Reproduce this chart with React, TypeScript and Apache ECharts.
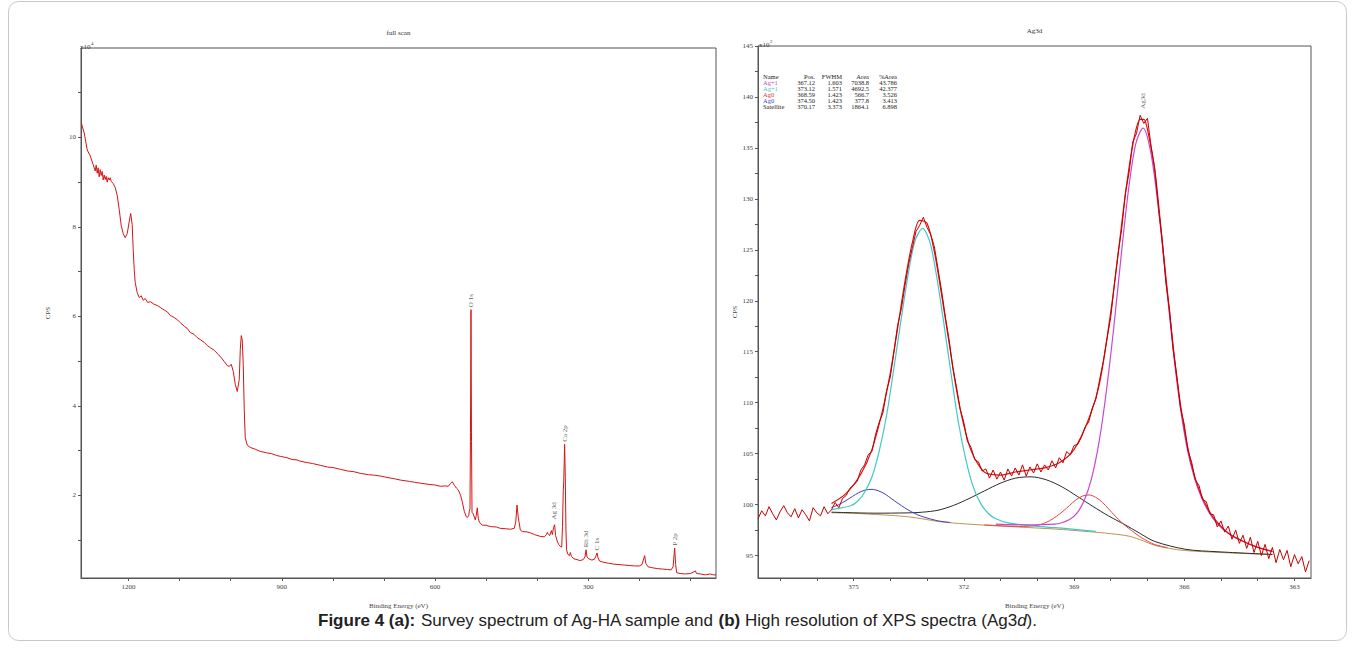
import React, { useEffect, useRef } from "react";
import * as echarts from "echarts";

const FONT = "Liberation Serif";

// ---------- Survey (full scan) : [binding energy eV, CPS x10^4] ----------
const surveyData: [number, number][] = [
  [1292.6, 10.33], [1286.7, 10.1], [1280.8, 9.72], [1275.0, 9.59], [1269.1, 9.39], [1265.2, 9.25],
  [1263.3, 9.38], [1261.3, 9.2], [1259.4, 9.32], [1257.4, 9.12], [1255.4, 9.28], [1253.5, 9.15],
  [1251.5, 9.24], [1249.6, 9.05], [1247.6, 9.16], [1245.6, 9.06], [1243.7, 9.13], [1241.7, 9.0],
  [1239.8, 9.1], [1237.8, 9.05], [1235.8, 9.1], [1233.9, 9.02], [1230.0, 8.97], [1226.0, 8.88],
  [1222.1, 8.7], [1218.2, 8.39], [1214.3, 8.03], [1210.4, 7.85], [1206.5, 7.76], [1202.5, 7.85],
  [1198.6, 8.12], [1195.7, 8.3], [1192.8, 8.05], [1190.8, 7.49], [1188.8, 7.05], [1186.9, 6.76],
  [1183.0, 6.53], [1179.0, 6.42], [1175.1, 6.46], [1171.2, 6.36], [1167.3, 6.4], [1162.4, 6.31],
  [1157.5, 6.33], [1150.0, 6.27], [1143.0, 6.24], [1137.9, 6.2], [1130.0, 6.14], [1124.0, 6.1],
  [1118.3, 6.02], [1110.0, 5.97], [1104.0, 5.92], [1098.8, 5.86], [1090.0, 5.77], [1085.0, 5.73],
  [1079.2, 5.64], [1072.0, 5.6], [1066.0, 5.53], [1059.6, 5.48], [1052.0, 5.42], [1046.0, 5.35],
  [1040.0, 5.3], [1032.0, 5.24], [1024.4, 5.15], [1018.0, 5.07], [1012.6, 4.99], [1006.7, 4.9],
  [1002.8, 4.88], [998.9, 4.93], [995.0, 4.77], [991.0, 4.48], [987.1, 4.32], [983.2, 4.59],
  [981.2, 5.26], [979.3, 5.57], [977.4, 5.48], [975.4, 4.92], [973.5, 3.92], [971.5, 3.29],
  [967.6, 3.12], [961.7, 3.07], [952.0, 3.03], [942.1, 2.98], [930.0, 2.95], [920.0, 2.93],
  [910.0, 2.89], [903.0, 2.87], [890.0, 2.84], [880.0, 2.8], [870.0, 2.79], [863.8, 2.76],
  [850.0, 2.73], [840.0, 2.71], [824.7, 2.67], [810.0, 2.63], [800.0, 2.62], [785.5, 2.58],
  [770.0, 2.54], [760.0, 2.53], [746.3, 2.49], [730.0, 2.46], [720.0, 2.45], [707.2, 2.43],
  [690.0, 2.39], [680.0, 2.37], [668.0, 2.34], [650.0, 2.31], [640.0, 2.29], [628.8, 2.27],
  [610.0, 2.24], [600.0, 2.23], [589.7, 2.2], [580.0, 2.21], [574.0, 2.2], [570.0, 2.26],
  [566.2, 2.3], [562.0, 2.22], [558.0, 2.16], [554.5, 2.12], [550.0, 2.0], [546.6, 1.85],
  [542.7, 1.64], [538.8, 1.52], [536.9, 1.5], [534.0, 1.55], [532.9, 1.64], [531.6, 1.7],
  [530.6, 3.4], [529.6, 6.15], [528.6, 3.2], [527.6, 1.62], [525.1, 1.58], [521.2, 1.45],
  [519.2, 1.55], [517.3, 1.72], [515.3, 1.48], [513.3, 1.4], [507.5, 1.33], [500.0, 1.33],
  [491.8, 1.3], [480.0, 1.29], [472.2, 1.26], [460.0, 1.25], [452.6, 1.24], [445.0, 1.26],
  [442.0, 1.4], [439.5, 1.78], [437.0, 1.5], [433.0, 1.22], [429.1, 1.19], [420.0, 1.18],
  [413.4, 1.16], [405.0, 1.12], [393.9, 1.08], [386.0, 1.07], [382.0, 1.12], [380.2, 1.17],
  [378.0, 1.12], [375.5, 1.1], [372.3, 1.21], [370.3, 1.12], [368.0, 1.28], [365.9, 1.34],
  [364.0, 1.1], [361.0, 0.98], [358.0, 0.9], [355.0, 0.86], [352.0, 0.84], [350.5, 1.3],
  [349.0, 2.1], [348.0, 2.3], [346.3, 3.14], [345.0, 2.4], [343.7, 1.2], [342.5, 0.78],
  [340.0, 0.68], [337.0, 0.65], [335.0, 0.72], [333.0, 0.63], [328.0, 0.58], [322.0, 0.56],
  [316.0, 0.54], [310.0, 0.56], [306.5, 0.62], [304.4, 0.78], [302.5, 0.62], [299.0, 0.58],
  [293.0, 0.55], [288.0, 0.57], [285.8, 0.62], [282.8, 0.71], [281.0, 0.6], [278.0, 0.53],
  [270.0, 0.5], [260.0, 0.48], [250.0, 0.46], [240.0, 0.45], [230.0, 0.44], [220.0, 0.43],
  [210.0, 0.42], [200.0, 0.42], [195.0, 0.45], [189.6, 0.65], [187.5, 0.48], [183.0, 0.4],
  [175.0, 0.38], [165.0, 0.36], [155.0, 0.35], [145.0, 0.34], [138.0, 0.33], [134.0, 0.4],
  [130.9, 0.82], [129.0, 0.45], [127.0, 0.27], [120.0, 0.25], [110.0, 0.24], [100.0, 0.25],
  [93.0, 0.29], [90.5, 0.31], [88.0, 0.25], [80.0, 0.24], [70.9, 0.22], [61.2, 0.24],
  [55.0, 0.22], [50.0, 0.22],
];
const surveyPeaks: [number, number, string][] = [
  [529.6, 6.15, "O 1s"], [368.0, 1.4, "Ag 3d"], [346.3, 3.14, "Ca 2p"],
  [304.4, 0.78, "Rh 3d"], [282.8, 0.71, "C 1s"], [130.9, 0.82, "P 2p"],
];
const surveyXTicks = [100, 200, 300, 400, 500, 600, 700, 800, 900, 1000, 1100, 1200];
const surveyXLabels = [300, 600, 900, 1200];
const surveyYTicks = [1, 2, 3, 4, 5, 6, 7, 8, 9, 10, 11];
const surveyYLabels = [2, 4, 6, 8, 10];

// ---------- Ag3d high resolution : [binding energy eV, CPS x10^2] ----------
const rawData: [number, number][] = [
  [377.6, 98.6], [377.5, 99.4], [377.4, 98.9], [377.3, 99.8], [377.2, 99.1], [377.1, 98.5], [377.0, 99.3],
  [376.9, 99.9], [376.8, 99.2], [376.7, 98.8], [376.6, 99.6], [376.5, 98.7], [376.4, 99.5], [376.3, 99.0],
  [376.2, 98.4], [376.1, 99.7], [376.0, 99.2], [375.9, 98.9], [375.8, 99.8], [375.7, 99.1], [375.6, 99.5],
  [375.5, 100.2], [375.4, 99.7], [375.3, 100.6], [375.2, 100.9], [375.1, 101.6], [375.0, 101.9], [374.9, 102.3],
  [374.8, 103.4], [374.7, 103.9], [374.6, 104.9], [374.5, 105.2], [374.4, 106.9], [374.3, 108.1], [374.2, 109.0],
  [374.1, 111.2], [374.0, 112.5], [373.9, 115.0], [373.8, 117.6], [373.7, 119.2], [373.6, 121.5], [373.5, 123.6],
  [373.4, 125.2], [373.3, 126.8], [373.2, 127.4], [373.1, 128.2], [373.0, 127.2], [372.9, 126.5], [372.8, 125.3],
  [372.7, 123.1], [372.6, 120.9], [372.5, 118.4], [372.4, 116.2], [372.3, 113.5], [372.2, 111.6], [372.1, 109.4],
  [372.0, 108.1], [371.9, 106.2], [371.8, 105.6], [371.7, 104.4], [371.6, 104.2], [371.5, 103.3], [371.4, 103.5],
  [371.3, 102.6], [371.2, 103.4], [371.1, 102.5], [371.0, 103.2], [370.9, 102.4], [370.8, 103.5], [370.7, 102.8],
  [370.6, 103.6], [370.5, 102.9], [370.4, 103.9], [370.3, 102.8], [370.2, 103.7], [370.1, 103.1], [370.0, 104.0],
  [369.9, 103.2], [369.8, 103.9], [369.7, 103.4], [369.6, 104.3], [369.5, 103.6], [369.4, 104.6], [369.3, 104.1],
  [369.2, 105.2], [369.1, 104.9], [369.0, 105.8], [368.9, 105.9], [368.8, 106.6], [368.7, 107.6], [368.6, 108.1],
  [368.5, 109.5], [368.4, 110.4], [368.3, 112.3], [368.2, 114.1], [368.1, 116.3], [368.0, 118.4], [367.9, 121.6],
  [367.8, 124.6], [367.7, 127.1], [367.6, 130.6], [367.5, 132.6], [367.4, 135.6], [367.3, 136.4], [367.2, 138.2],
  [367.1, 137.4], [367.0, 137.9], [366.9, 135.1], [366.8, 132.9], [366.7, 129.1], [366.6, 126.0], [366.5, 121.8],
  [366.4, 119.1], [366.3, 115.2], [366.2, 112.6], [366.1, 109.4], [366.0, 107.9], [365.9, 105.3], [365.8, 104.2],
  [365.7, 102.4], [365.6, 101.9], [365.5, 100.5], [365.4, 100.3], [365.3, 99.1], [365.2, 99.0], [365.1, 97.8],
  [365.0, 98.4], [364.9, 97.3], [364.8, 97.9], [364.7, 96.6], [364.6, 97.5], [364.5, 96.2], [364.4, 97.0],
  [364.3, 95.7], [364.2, 96.8], [364.1, 95.3], [364.0, 96.4], [363.9, 95.0], [363.8, 96.1], [363.7, 94.7],
  [363.6, 95.8], [363.5, 94.3], [363.4, 95.6], [363.3, 94.6], [363.2, 95.5], [363.1, 93.9], [363.0, 95.1],
  [362.9, 94.2], [362.8, 94.9], [362.7, 93.4], [362.6, 94.5],
];
const envelopeData: [number, number][] = [
  [375.6, 100.1], [375.2, 101.1], [374.8, 103.0], [374.5, 105.4], [374.2, 109.4], [374.0, 112.9],
  [373.8, 117.3], [373.6, 121.9], [373.4, 125.7], [373.2, 127.9], [373.0, 127.6], [372.8, 124.8],
  [372.6, 120.5], [372.4, 115.9], [372.2, 111.3], [372.0, 107.8], [371.8, 105.3], [371.6, 103.9],
  [371.4, 103.1], [371.0, 102.9], [370.6, 103.2], [370.2, 103.4], [369.8, 103.6], [369.4, 104.1],
  [369.0, 105.4], [368.6, 108.4], [368.3, 112.0], [368.0, 118.9], [367.8, 124.6], [367.6, 130.5],
  [367.4, 135.3], [367.2, 137.8], [367.1, 137.8], [367.0, 136.8], [366.8, 132.8], [366.6, 125.9],
  [366.4, 118.9], [366.2, 112.4], [366.0, 107.5], [365.8, 103.9], [365.6, 101.5], [365.4, 99.9],
  [365.2, 98.7], [364.8, 97.2], [364.4, 96.4], [364.0, 95.8], [363.6, 95.4],
];
const agPlus1aData: [number, number][] = [
  [371.13, 98.09], [370.33, 98.01], [369.52, 98.08], [369.12, 98.54], [368.92, 99.16], [368.72, 100.42],
  [368.52, 102.6], [368.32, 106.1], [368.12, 111.1], [367.92, 117.3], [367.72, 124.3], [367.52, 130.8],
  [367.32, 135.4], [367.12, 136.95], [366.92, 134.75], [366.72, 129.6], [366.52, 122.8], [366.32, 115.8],
  [366.12, 109.9], [365.92, 105.5], [365.72, 102.6], [365.52, 100.6], [365.32, 99.2], [365.12, 98.2],
  [364.8, 97.2], [364.4, 96.4], [364.0, 95.8], [363.6, 95.4],
];
const agPlus1bData: [number, number][] = [
  [375.6, 99.51], [375.08, 99.89], [374.89, 100.33], [374.69, 101.27], [374.49, 102.81], [374.3, 105.27],
  [374.1, 108.77], [373.91, 113.17], [373.71, 118.06], [373.51, 122.65], [373.32, 125.95], [373.12, 127.1],
  [372.92, 125.73], [372.73, 122.21], [372.53, 117.47], [372.33, 112.45], [372.14, 107.96], [371.94, 104.37],
  [371.75, 101.82], [371.55, 100.17], [371.35, 99.2], [371.16, 98.67], [370.76, 98.19], [369.98, 97.87],
  [369.19, 97.64], [368.41, 97.37],
];
const ag0aData: [number, number][] = [
  [371.44, 98.01], [370.72, 97.88], [370.37, 97.86], [370.01, 97.97], [369.83, 98.15], [369.66, 98.43],
  [369.48, 98.84], [369.3, 99.35], [369.12, 99.92], [368.95, 100.46], [368.77, 100.84], [368.59, 100.95],
  [368.41, 100.72], [368.23, 100.23], [368.06, 99.59], [367.88, 98.88], [367.7, 98.24], [367.52, 97.69],
  [367.35, 97.23], [367.17, 96.77], [366.81, 96.09], [366.46, 95.79],
];
const ag0bData: [number, number][] = [
  [375.6, 99.71], [375.39, 100.02], [375.21, 100.39], [375.03, 100.8], [374.86, 101.17], [374.68, 101.43],
  [374.5, 101.5], [374.32, 101.35], [374.14, 101.03], [373.97, 100.59], [373.79, 100.13], [373.61, 99.69],
  [373.43, 99.31], [373.25, 98.99], [373.08, 98.77], [372.72, 98.42], [372.37, 98.25],
];
const satelliteData: [number, number][] = [
  [375.6, 99.26], [375.23, 99.22], [374.39, 99.16], [373.54, 99.19], [373.12, 99.26], [372.7, 99.45],
  [372.28, 99.92], [371.86, 100.59], [371.43, 101.36], [371.01, 102.09], [370.59, 102.6], [370.17, 102.73],
  [369.75, 102.43], [369.33, 101.75], [368.91, 100.81], [368.48, 99.81], [368.06, 98.89], [367.64, 98.08],
  [367.22, 97.21], [366.8, 96.38], [365.95, 95.61], [365.11, 95.38], [363.6, 95.11],
];
const backgroundData: [number, number][] = [
  [375.6, 99.2], [375.0, 99.15], [374.5, 99.05], [374.0, 98.95], [373.5, 98.8], [373.12, 98.6],
  [372.7, 98.35], [372.3, 98.2], [371.5, 98.0], [370.5, 97.8], [369.5, 97.6], [368.6, 97.35],
  [368.0, 97.15], [367.5, 96.9], [367.12, 96.45], [366.8, 96.0], [366.4, 95.7], [366.0, 95.5],
  [365.0, 95.3], [364.0, 95.15], [363.6, 95.1],
];
const ag3dPeak: [number, number, string][] = [[367.12, 138.6, "Ag3d"]];
const hrXTicks = [363, 364, 365, 366, 367, 368, 369, 370, 371, 372, 373, 374, 375, 376, 377];
const hrXLabels = [363, 366, 369, 372, 375];
const hrYTicks = [95, 97.5, 100, 102.5, 105, 107.5, 110, 112.5, 115, 117.5, 120, 122.5, 125, 127.5, 130, 132.5, 135, 137.5, 140, 142.5, 145];
const hrYLabels = [95, 100, 105, 110, 115, 120, 125, 130, 135, 140, 145];

// Fit table
const tableHeader = ["Name", "Pos.", "FWHM", "Area", "%Area"];
const tableRows: string[][] = [
  ["Ag+1", "367.12", "1.603", "7038.8", "43.786"],
  ["Ag+1", "373.12", "1.571", "4692.5", "42.377"],
  ["Ag0", "368.59", "1.423", "566.7", "3.526"],
  ["Ag0", "374.50", "1.423", "377.8", "3.413"],
  ["Satellite", "370.17", "3.373", "1864.1", "6.898"],
];
const rowColors = ["#c040c8", "#40c8c8", "#e03030", "#4040c0", "#222222"];

const AXIS_COLOR = "#555";

function valueAxis(gridIndex: number, min: number, max: number, ticks: number[], labels: number[], inverse: boolean, name: string, nameGap: number) {
  return {
    type: "value",
    gridIndex,
    min,
    max,
    inverse,
    name,
    nameLocation: "middle",
    nameGap,
    nameTextStyle: { fontFamily: FONT, fontSize: 7, color: "#444" },
    axisLine: { show: true, onZero: false, lineStyle: { color: AXIS_COLOR, width: 1 } },
    axisTick: { show: true, inside: false, length: 3, customValues: ticks, lineStyle: { color: AXIS_COLOR } },
    axisLabel: {
      show: true,
      customValues: labels,
      fontFamily: FONT,
      fontSize: 7,
      color: "#444",
      margin: 5,
      formatter: (v: number) => String(v),
    },
    splitLine: { show: false },
  };
}

function lineSeries(x: number, y: number, data: [number, number][], color: string, width: number, z: number, smooth: boolean) {
  return {
    type: "line",
    xAxisIndex: x,
    yAxisIndex: y,
    data,
    showSymbol: false,
    symbol: "none",
    smooth: smooth ? 0.3 : false,
    z,
    lineStyle: { color, width },
    emphasis: { disabled: true },
  };
}

function labelSeries(x: number, y: number, data: [number, number, string][]) {
  return {
    type: "scatter",
    xAxisIndex: x,
    yAxisIndex: y,
    data,
    symbolSize: 1,
    itemStyle: { color: "rgba(0,0,0,0)" },
    z: 20,
    label: {
      show: true,
      position: "top",
      distance: 2,
      rotate: 90,
      align: "left",
      verticalAlign: "middle",
      fontFamily: FONT,
      fontSize: 7,
      color: "#333",
      formatter: (p: any) => p.value[2],
    },
  };
}

function buildTable() {
  const els: any[] = [];
  const colX = [763, 815, 842, 869, 897];
  const colAlign = ["left", "right", "right", "right", "right"];
  const rowY = [76.5, 82.5, 88.5, 94.5, 100.5, 106.5];
  tableHeader.forEach((t, i) => {
    els.push({
      type: "text",
      x: colX[i],
      y: rowY[0],
      style: { text: t, fontFamily: FONT, fontSize: 6.5, fill: "#222", align: colAlign[i], verticalAlign: "middle" },
    });
  });
  tableRows.forEach((row, r) => {
    row.forEach((t, i) => {
      els.push({
        type: "text",
        x: colX[i],
        y: rowY[r + 1],
        style: { text: t, fontFamily: FONT, fontSize: 6.5, fill: i === 0 ? rowColors[r] : "#222", align: colAlign[i], verticalAlign: "middle" },
      });
    });
  });
  return els;
}

export default function App() {
  const ref = useRef<HTMLDivElement>(null);
  useEffect(() => {
    if (!ref.current) return;
    const chart = echarts.init(ref.current, null, { renderer: "svg" });
    const option: any = {
      animation: false,
      backgroundColor: "#fff",
      grid: [
        { left: 81, top: 48, width: 635, height: 530, show: true, borderColor: AXIS_COLOR, borderWidth: 1, backgroundColor: "transparent" },
        { left: 758, top: 46, width: 553, height: 532, show: true, borderColor: AXIS_COLOR, borderWidth: 1, backgroundColor: "transparent" },
      ],
      xAxis: [
        valueAxis(0, 50, 1293, surveyXTicks, surveyXLabels, true, "Binding Energy (eV)", 24),
        valueAxis(1, 362.55, 377.6, hrXTicks, hrXLabels, true, "Binding Energy (eV)", 24),
      ],
      yAxis: [
        valueAxis(0, 0.15, 12, surveyYTicks, surveyYLabels, false, "CPS", 30),
        valueAxis(1, 92.8, 145, hrYTicks, hrYLabels, false, "CPS", 20),
      ],
      series: [
        lineSeries(0, 0, surveyData, "#d41515", 1, 5, false),
        labelSeries(0, 0, surveyPeaks),
        lineSeries(1, 1, backgroundData, "#c09050", 1, 3, true),
        lineSeries(1, 1, satelliteData, "#2a2a2a", 1, 4, true),
        lineSeries(1, 1, ag0bData, "#4040b8", 1, 4, true),
        lineSeries(1, 1, ag0aData, "#e84040", 1, 4, true),
        lineSeries(1, 1, agPlus1bData, "#40c8c8", 1.2, 5, true),
        lineSeries(1, 1, agPlus1aData, "#c848d0", 1.2, 5, true),
        lineSeries(1, 1, envelopeData, "#e01010", 1.2, 6, true),
        lineSeries(1, 1, rawData, "#c00000", 1, 7, false),
        labelSeries(1, 1, ag3dPeak),
      ],
      graphic: [
        { type: "rect", shape: { x: 8.5, y: 1.5, width: 1338, height: 639, r: 10 }, style: { fill: "none", stroke: "#c8c8c8", lineWidth: 1 }, z: -10 },
        { type: "text", x: 398.5, y: 33, style: { text: "full scan", fontFamily: FONT, fontSize: 7, fill: "#333", align: "center", verticalAlign: "middle" } },
        { type: "text", x: 1034.5, y: 31, style: { text: "Ag3d", fontFamily: FONT, fontSize: 7, fill: "#333", align: "center", verticalAlign: "middle" } },
        { type: "text", x: 80, y: 47, style: { text: "x10", fontFamily: FONT, fontSize: 7, fill: "#444", align: "left", verticalAlign: "middle" } },
        { type: "text", x: 91, y: 43, style: { text: "4", fontFamily: FONT, fontSize: 5, fill: "#444", align: "left", verticalAlign: "middle" } },
        { type: "text", x: 759, y: 45, style: { text: "x10", fontFamily: FONT, fontSize: 7, fill: "#444", align: "left", verticalAlign: "middle" } },
        { type: "text", x: 770, y: 41, style: { text: "2", fontFamily: FONT, fontSize: 5, fill: "#444", align: "left", verticalAlign: "middle" } },
        ...buildTable(),
        {
          type: "text",
          x: 677.5,
          y: 620,
          style: {
            text: "{b|Figure 4 (a):}{n| Survey spectrum of Ag-HA sample and }{b|(b)}{n| High resolution of XPS spectra (Ag3}{i|d}{n|).}",
            align: "center",
            verticalAlign: "middle",
            rich: {
              b: { fontFamily: "Liberation Sans", fontSize: 17, fontWeight: "bold", fill: "#222" },
              n: { fontFamily: "Liberation Sans", fontSize: 17, fill: "#222" },
              i: { fontFamily: "Liberation Sans", fontSize: 17, fontStyle: "italic", fill: "#222" },
            },
          },
        },
      ],
    };
    chart.setOption(option);
    return () => chart.dispose();
  }, []);
  return (
    <div
      ref={ref}
      style={{ position: "absolute", left: 0, top: 0, width: 1355, height: 648, background: "#fff" }}
    />
  );
}
